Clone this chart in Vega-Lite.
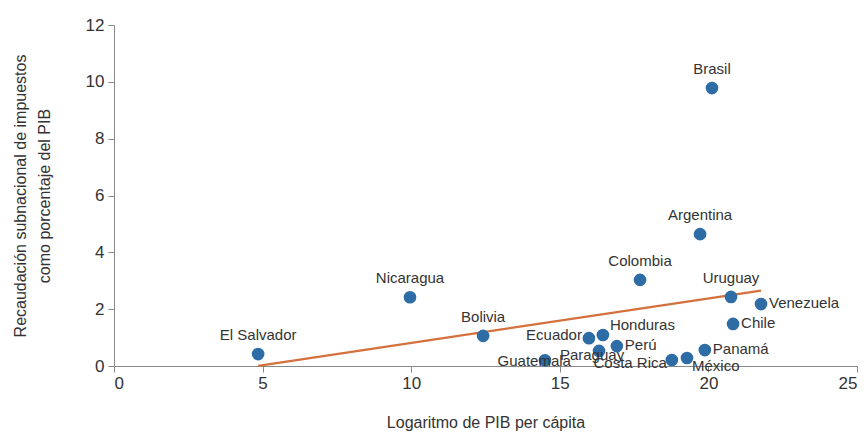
{
  "$schema": "https://vega.github.io/schema/vega-lite/v6.json",
  "autosize": {"type": "none"},
  "width": 743,
  "height": 341,
  "padding": {"left": 114, "top": 25, "right": 11, "bottom": 67},
  "background": "white",
  "config": {
    "view": {"stroke": null},
    "font": "Liberation Sans",
    "axis": {"grid": false, "domainColor": "#888888", "tickColor": "#888888", "labelColor": "#333333", "titleColor": "#333333", "labelFont": "Liberation Sans", "titleFont": "Liberation Sans", "labelFontSize": 17, "titleFontSize": 16, "titleFontWeight": "normal", "tickSize": 6}
  },
  "data": {"values": [
    {"pais": "El Salvador", "x": 4.85, "y": 0.42},
    {"pais": "Nicaragua", "x": 9.96, "y": 2.42},
    {"pais": "Bolivia", "x": 12.42, "y": 1.06},
    {"pais": "Guatemala", "x": 14.5, "y": 0.2},
    {"pais": "Ecuador", "x": 15.98, "y": 0.98},
    {"pais": "Honduras", "x": 16.45, "y": 1.09},
    {"pais": "Paraguay", "x": 16.32, "y": 0.53},
    {"pais": "Perú", "x": 16.92, "y": 0.7},
    {"pais": "Costa Rica", "x": 18.77, "y": 0.21},
    {"pais": "México", "x": 19.28, "y": 0.28},
    {"pais": "Panamá", "x": 19.88, "y": 0.56},
    {"pais": "Colombia", "x": 17.7, "y": 3.03},
    {"pais": "Argentina", "x": 19.72, "y": 4.64},
    {"pais": "Brasil", "x": 20.12, "y": 9.78},
    {"pais": "Uruguay", "x": 20.76, "y": 2.43},
    {"pais": "Venezuela", "x": 21.77, "y": 2.18},
    {"pais": "Chile", "x": 20.83, "y": 1.48}
  ]},
  "encoding": {
    "x": {"field": "x", "type": "quantitative", "scale": {"domain": [0, 25], "nice": false}, "axis": {"values": [0, 5, 10, 15, 20, 25], "title": "Logaritmo de PIB per cápita", "titlePadding": 23, "labelPadding": 3}},
    "y": {"field": "y", "type": "quantitative", "scale": {"domain": [0, 12], "nice": false}, "axis": {"values": [0, 2, 4, 6, 8, 10, 12], "title": ["Recaudación subnacional de impuestos", "como porcentaje del PIB"], "titlePadding": 33, "titleLineHeight": 24, "labelPadding": 4}}
  },
  "layer": [
    {
      "transform": [{"regression": "y", "on": "x"}],
      "mark": {"type": "line", "color": "#d4703c", "strokeWidth": 2.2}
    },
    {
      "mark": {"type": "circle", "size": 160, "opacity": 1, "color": "#2e6ca6"}
    },
    {
      "transform": [{"filter": {"field": "pais", "oneOf": ["El Salvador", "Nicaragua", "Bolivia", "Colombia", "Argentina", "Brasil", "Uruguay"]}}],
      "mark": {"type": "text", "fontSize": 15, "color": "#333333", "align": "center", "baseline": "middle", "dy": -19},
      "encoding": {"text": {"field": "pais"}}
    },
    {
      "transform": [{"filter": {"field": "pais", "oneOf": ["Venezuela", "Chile", "Panamá", "Perú"]}}],
      "mark": {"type": "text", "fontSize": 15, "color": "#333333", "align": "left", "baseline": "middle", "dx": 8, "dy": -1},
      "encoding": {"text": {"field": "pais"}}
    },
    {
      "transform": [{"filter": {"field": "pais", "equal": "Honduras"}}],
      "mark": {"type": "text", "fontSize": 15, "color": "#333333", "align": "left", "baseline": "middle", "dx": 7, "dy": -10},
      "encoding": {"text": {"field": "pais"}}
    },
    {
      "transform": [{"filter": {"field": "pais", "equal": "Ecuador"}}],
      "mark": {"type": "text", "fontSize": 15, "color": "#333333", "align": "right", "baseline": "middle", "dx": -7, "dy": -3},
      "encoding": {"text": {"field": "pais"}}
    },
    {
      "transform": [{"filter": {"field": "pais", "equal": "Guatemala"}}],
      "mark": {"type": "text", "fontSize": 15, "color": "#333333", "align": "right", "baseline": "middle", "dx": 26, "dy": 1},
      "encoding": {"text": {"field": "pais"}}
    },
    {
      "transform": [{"filter": {"field": "pais", "equal": "Paraguay"}}],
      "mark": {"type": "text", "fontSize": 15, "color": "#333333", "align": "center", "baseline": "middle", "dx": -7, "dy": 4},
      "encoding": {"text": {"field": "pais"}}
    },
    {
      "transform": [{"filter": {"field": "pais", "equal": "Costa Rica"}}],
      "mark": {"type": "text", "fontSize": 15, "color": "#333333", "align": "right", "baseline": "middle", "dx": -5, "dy": 3},
      "encoding": {"text": {"field": "pais"}}
    },
    {
      "transform": [{"filter": {"field": "pais", "equal": "México"}}],
      "mark": {"type": "text", "fontSize": 15, "color": "#333333", "align": "left", "baseline": "middle", "dx": 5, "dy": 8},
      "encoding": {"text": {"field": "pais"}}
    }
  ]
}
